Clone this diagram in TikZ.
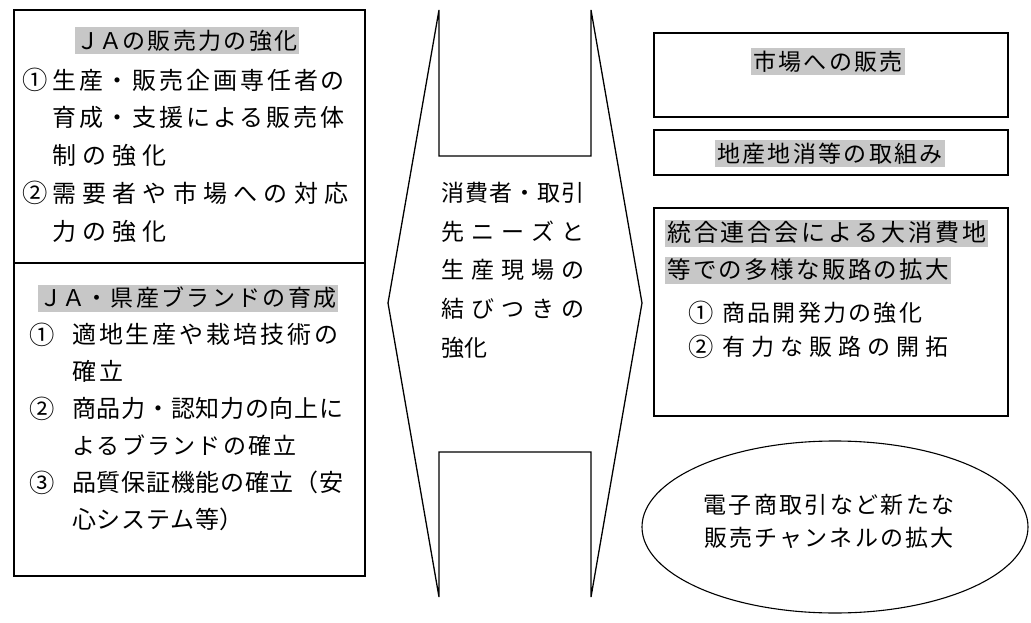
\documentclass[tikz,border=0pt]{standalone}
\usepackage{fontspec}
\usepackage{graphicx}
\newfontfamily\jpn{Noto Sans CJK JP}
\newfontfamily\jpd[LetterSpace=3]{Noto Sans CJK JP}
\newfontfamily\jpb[LetterSpace=10]{Noto Sans CJK JP}
\newfontfamily\jpa[LetterSpace=12]{Noto Sans CJK JP}
\newfontfamily\jpc[LetterSpace=26]{Noto Sans CJK JP}
\newcommand{\cn}[2][30pt]{\makebox[#1][l]{\raisebox{-0.5pt}{\scalebox{1.1}{\jpn\fontsize{23}{23}\selectfont #2}}}}
\begin{document}
\begin{tikzpicture}[x=1pt,y=-1pt,
  ln/.style={line width=1.3pt,line join=miter},
  tx/.style={anchor=west,inner sep=0pt,text height=20pt,text depth=3pt},
  hd/.style={inner sep=2pt,text height=20pt,text depth=3pt,fill=black!22,font=\jpb\fontsize{23}{23}\selectfont}]
\useasboundingbox (0,0) rectangle (1031,623);
% left box
\draw[ln] (14,10) rectangle (365,576);
\draw[ln] (14,263) -- (365,263);
\node[hd] (h1) at (187,41) {{\jpn ＪＡ}の販売力の強化};
\node[tx,font=\jpa\fontsize{24}{24}\selectfont] (l1) at (22,81) {\cn{①}生産・販売企画専任者の};
\node[tx,font=\jpa\fontsize{24}{24}\selectfont] (l2) at (52,118) {育成・支援による販売体};
\node[tx,font=\jpc\fontsize{24}{24}\selectfont] (l3) at (52,156) {制の強化};
\node[tx,font=\jpc\fontsize{24}{24}\selectfont] (l4) at (22,194) {\cn{②}需要者や市場への対応};
\node[tx,font=\jpc\fontsize{24}{24}\selectfont] (l5) at (52,232) {力の強化};
\node[hd] (h2) at (188,298) {{\jpn ＪＡ}・県産ブランドの育成};
\node[tx,font=\jpa\fontsize{24}{24}\selectfont] (m1) at (29,335) {\cn[43pt]{①}適地生産や栽培技術の};
\node[tx,font=\jpa\fontsize{24}{24}\selectfont] (m2) at (72,372) {確立};
\node[tx,font=\jpd\fontsize{24}{24}\selectfont] (m3) at (29,409) {\cn[43pt]{②}商品力・認知力の向上に};
\node[tx,font=\jpb\fontsize{23}{23}\selectfont] (m4) at (72,446) {よるブランドの確立};
\node[tx,font=\jpd\fontsize{24}{24}\selectfont] (m5) at (29,483) {\cn[43pt]{③}品質保証機能の確立（安};
\node[tx,font=\jpd\fontsize{24}{24}\selectfont] (m6) at (72,520) {心システム等）};
% center double arrow
\draw[ln] (439,10) -- (439,156) -- (591,156) -- (591,10) -- (642,303) -- (591,597)
  -- (591,452) -- (439,452) -- (439,597) -- (388,303) -- cycle;
\begin{scope}[every node/.style={tx,font=\jpn\fontsize{23}{23}\selectfont}]
\node (c1) at (441,193) {\hbox to 143pt{消\hfill 費\hfill 者\hfill ・\hfill 取\hfill 引}};
\node (c2) at (441,232) {\hbox to 143pt{先\hfill ニ\hfill ー\hfill ズ\hfill と}};
\node (c3) at (441,270) {\hbox to 143pt{生\hfill 産\hfill 現\hfill 場\hfill の}};
\node (c4) at (441,309) {\hbox to 143pt{結\hfill び\hfill つ\hfill き\hfill の}};
\node (c5) at (441,348) {強化};
\end{scope}
% right boxes
\draw[ln] (654,33) rectangle (1008,117);
\node[hd] (r1) at (828,62) {市場への販売};
\draw[ln] (654,130) rectangle (1008,175);
\node[hd] (r2) at (830,154) {地産地消等の取組み};
\draw[ln] (654,208) rectangle (1008,416);
\node[hd,anchor=west,font=\jpa\fontsize{24}{24}\selectfont] (r3) at (665,233) {統合連合会による大消費地};
\node[hd,anchor=west,font=\jpb\fontsize{23.5}{24}\selectfont] (r4) at (665,270) {等での多様な販路の拡大};
\node[tx,font=\jpb\fontsize{23}{23}\selectfont] (r5) at (688,313) {\cn[34pt]{①}商品開発力の強化};
\node[tx,font=\jpc\fontsize{23}{23}\selectfont] (r6) at (688,347) {\cn[34pt]{②}有力な販路の開拓};
% ellipse
\draw[line width=1.1pt] (835,527) ellipse [x radius=193, y radius=86];
\node[tx,anchor=center,font=\jpb\fontsize{23}{23}\selectfont] (e1) at (829,505) {電子商取引など新たな};
\node[tx,anchor=center,font=\jpb\fontsize{23}{23}\selectfont] (e2) at (829,538) {販売チャンネルの拡大};
\end{tikzpicture}
\end{document}
